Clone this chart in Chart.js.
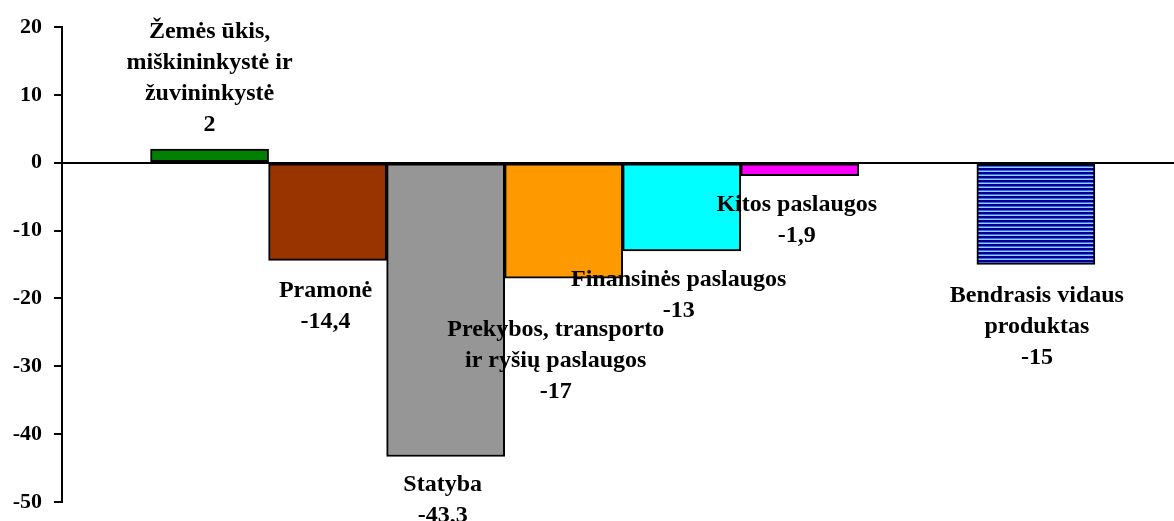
<!DOCTYPE html>
<html lang="lt">
<head>
<meta charset="UTF-8">
<title>BVP pokytis pagal veiklas</title>
<style>
  html, body { margin: 0; padding: 0; background: #fff; }
  #wrap { width: 1174px; height: 521px; }
</style>
<script src="https://cdn.jsdelivr.net/npm/chart.js"></script>
</head>
<body>
<div id="wrap"><canvas id="chart" width="1174" height="521"></canvas></div>
<script>
// Duomenys
const categories = [
  'Žemės ūkis,\nmiškininkystė ir\nžuvininkystė',
  'Pramonė',
  'Statyba',
  'Prekybos, transporto\nir ryšių paslaugos',
  'Finansinės paslaugos',
  'Kitos paslaugos',
  'Bendrasis vidaus\nproduktas'
];
const values = [2, -14.4, -43.3, -17, -13, -1.9, -15];
// slot 6 is left empty before the GDP bar
const slots = [0, 1, 2, 3, 4, 5, 7];
const yMin = -50, yMax = 20, yStep = 10;

// Stilius
const barColors = ['#008000', '#993300', '#969696', '#ff9900', '#00ffff', '#ff00ff', 'stripes'];
const labelShift = [[0, -24], [-2, 30], [-3, 28], [-8, 52], [-3, 29], [-3, 29], [1, 31]];
const lineH = 31;
const serif = '"Liberation Serif", "Times New Roman", serif';

function stripes() {
  const c = document.createElement('canvas');
  c.width = 4; c.height = 4;
  const g = c.getContext('2d');
  ['#000080', '#000099', '#3366ff', '#99ccff'].forEach((col, i) => {
    g.fillStyle = col;
    g.fillRect(0, i, 4, 1);
  });
  return g.createPattern(c, 'repeat');
}

const fmt = v => String(v).replace('.', ',');

// Tekstai prie stulpelių
const labelPlugin = {
  id: 'barLabels',
  afterDatasetsDraw(chart) {
    const ctx = chart.ctx;
    const bars = chart.getDatasetMeta(0).data;
    ctx.save();
    ctx.font = 'bold 24px ' + serif;
    ctx.fillStyle = '#000';
    ctx.textAlign = 'center';
    ctx.textBaseline = 'middle';
    bars.forEach((bar, i) => {
      const lines = categories[i].split('\n').concat(fmt(values[i]));
      const [dx, dy] = labelShift[i];
      const x = bar.x + dx;
      let y = bar.y + dy;
      if (values[i] >= 0) y -= (lines.length - 1) * lineH;
      lines.forEach((t, k) => ctx.fillText(t, x, y + k * lineH));
    });
    ctx.restore();
  }
};

const pattern = stripes();

new Chart(document.getElementById('chart'), {
  type: 'bar',
  data: {
    datasets: [{
      data: values.map((v, i) => ({ x: slots[i], y: v })),
      backgroundColor: barColors.map(c => c === 'stripes' ? pattern : c),
      borderColor: '#000',
      borderWidth: 2,
      borderSkipped: false,
      barPercentage: 1,
      categoryPercentage: 1
    }]
  },
  options: {
    responsive: false,
    animation: false,
    layout: { padding: { top: 27, bottom: 19, left: 0, right: 0 } },
    plugins: {
      legend: { display: false },
      tooltip: { enabled: false }
    },
    scales: {
      x: {
        type: 'linear',
        min: -1.25,
        max: 8.17,
        offset: false,
        display: false
      },
      y: {
        min: yMin,
        max: yMax,
        afterFit(scale) {
          scale.width = 62;
          scale.paddingTop = 0;
          scale.paddingBottom = 0;
        },
        border: { display: true, color: '#000', width: 2 },
        grid: {
          color: c => c.tick && c.tick.value === 0 ? '#000' : 'rgba(0,0,0,0)',
          tickColor: '#000',
          lineWidth: 2,
          tickLength: 8
        },
        ticks: {
          stepSize: yStep,
          padding: 12,
          color: '#000',
          font: { family: serif, size: 22, weight: 'bold' }
        }
      }
    }
  },
  plugins: [labelPlugin]
});
</script>
</body>
</html>
